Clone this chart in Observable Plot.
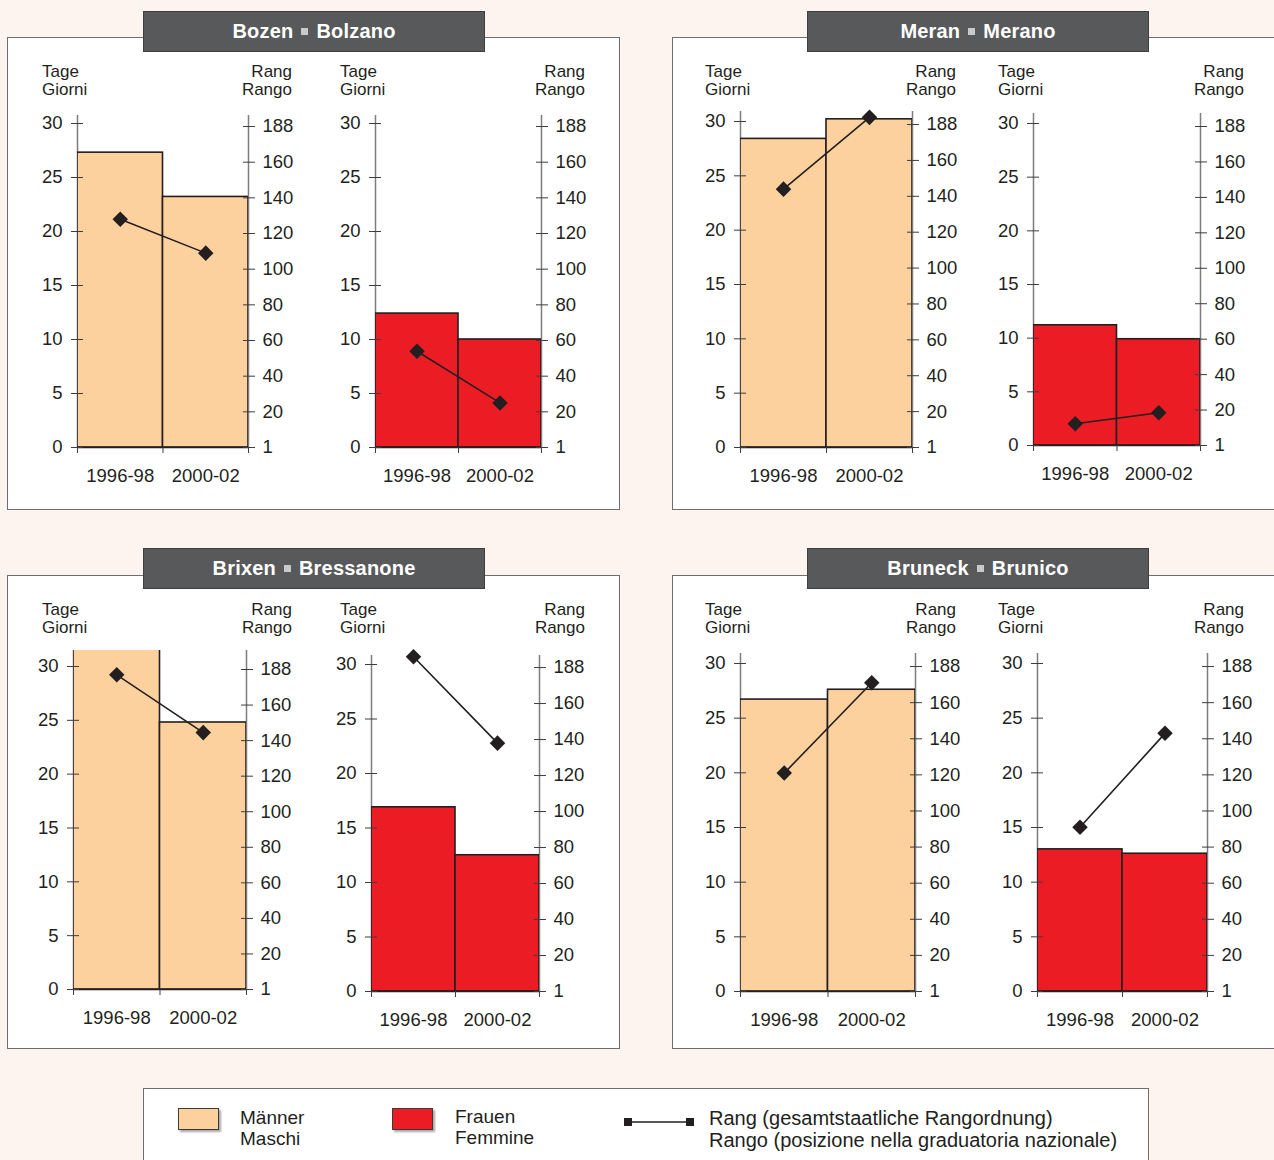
<!DOCTYPE html>
<html><head><meta charset="utf-8">
<script src="https://cdn.jsdelivr.net/npm/d3@7"></script>
<script src="https://cdn.jsdelivr.net/npm/@observablehq/plot@0.6"></script>
<style>
html,body{margin:0;padding:0;background:#fdf4ef;}
#root{position:relative;width:1274px;height:1160px;overflow:hidden;font-family:"Liberation Sans",Arial,sans-serif;color:#231f20;}
.box{position:absolute;box-sizing:border-box;background:#fff;border:1.5px solid #6d6e70;}
.tab{position:absolute;box-sizing:border-box;background:#58595b;border:1.5px solid #3f3f41;color:#fff;font-weight:bold;font-size:20px;display:flex;align-items:center;justify-content:center;letter-spacing:0.2px;}
.sep{display:inline-block;width:7px;height:7px;background:#c9c9c9;margin:0 8px;position:relative;top:0px;}
.hdr{position:absolute;font-size:17px;line-height:18px;}
.chart{position:absolute;}
.lg{position:absolute;font-size:19px;line-height:21px;}
.sw{position:absolute;box-sizing:border-box;width:41px;height:22px;border:1.5px solid #3a3a3a;box-shadow:2px 2px 2px rgba(0,0,0,0.35);}
</style></head><body><div id="root"></div>
<script>
// ---------- data ----------
const periods = ["1996-98", "2000-02"];
const citiesDe = ["Bozen", "Meran", "Brixen", "Bruneck"];
const citiesIt = ["Bolzano", "Merano", "Bressanone", "Brunico"];
// days (Tage / Giorni)
const menDays   = [[27.3, 23.2], [28.4, 30.2], [32.5, 24.8], [26.7, 27.6]];
const womenDays = [[12.4, 10.0], [11.2, 9.9], [16.9, 12.5], [13.0, 12.6]];
// rank (Rang / Rango), read on the right axis positions
const menRank   = [[128, 109], [144, 184], [177, 144.5], [121, 171]];
const womenRank = [[54, 25], [12.3, 18.5], [186, 138], [91, 143]];
// tick labels
const dayTicks = [0, 5, 10, 15, 20, 25, 30];
const rankTickPos = [0, 20, 40, 60, 80, 100, 120, 140, 160, 180];
const rankTickLabels = ["1", "20", "40", "60", "80", "100", "120", "140", "160", "188"];
const legendLabels = {
  men: ["Männer", "Maschi"],
  women: ["Frauen", "Femmine"],
  rank: ["Rang (gesamtstaatliche Rangordnung)", "Rango (posizione nella graduatoria nazionale)"]
};

// ---------- layout (pixel geometry only) ----------
const RANK_TOP = 29.72; // day-scale value where the top rank tick sits
const panels = [
  {box: [7, 37, 613, 473], tab: [143, 11, 342, 41], hy: 63,
   charts: [{x0: 77, x1: 248, y0: 447, y30: 123, top: 115, tx: 42, rx: 292},
            {x0: 375, x1: 541, y0: 447, y30: 123, top: 115, tx: 340, rx: 585}]},
  {box: [672, 37, 640, 473], tab: [807, 11, 342, 41], hy: 63,
   charts: [{x0: 740, x1: 912, y0: 447, y30: 121, top: 111, tx: 705, rx: 956},
            {x0: 1033, x1: 1200, y0: 445, y30: 123, top: 113, tx: 998, rx: 1244}]},
  {box: [7, 575, 613, 474], tab: [143, 548, 342, 41], hy: 601,
   charts: [{x0: 73, x1: 246, y0: 989, y30: 666, top: 650, tx: 42, rx: 292},
            {x0: 371, x1: 539, y0: 991, y30: 664, top: 655, tx: 340, rx: 585}]},
  {box: [672, 575, 640, 474], tab: [807, 548, 342, 41], hy: 601,
   charts: [{x0: 740, x1: 915, y0: 991, y30: 663, top: 653, tx: 705, rx: 956},
            {x0: 1037, x1: 1207, y0: 991, y30: 663, top: 653, tx: 998, rx: 1244}]}
];
const MEN = "#fdd19e", WOMEN = "#ec1c24", INK = "#231f20";

const root = document.getElementById("root");
function el(cls, css, html) {
  const d = document.createElement("div");
  d.className = cls;
  Object.assign(d.style, css);
  if (html != null) d.innerHTML = html;
  root.appendChild(d);
  return d;
}

function chart(days, ranks, fill, g) {
  const mL = 60, mR = 60, mT = 10, mB = 48;
  const svgTop = g.top - mT;
  const height = (g.y0 - svgTop) + mB;
  const width = (g.x1 - g.x0) + mL + mR;
  const rk = r => r / 180 * RANK_TOP;
  const data = periods.map((p, i) => ({period: p, i, i1: i + 1, xm: i + 0.5, days: days[i], rank: ranks[i]}));
  const rankY = rankTickPos.map(rk);
  const plot = Plot.plot({
    width, height,
    marginLeft: mL, marginRight: mR, marginTop: mT, marginBottom: mB,
    x: {domain: [0, 2]},
    y: {domain: [0, 30], range: [g.y0 - svgTop, g.y30 - svgTop]},
    style: {fontFamily: "'Liberation Sans', Arial, sans-serif", fontSize: "18.5px", color: INK, background: "transparent", overflow: "visible"},
    marks: [
      Plot.ruleX([0, 2], {stroke: "#7d7d7f", strokeWidth: 1.5}),
      Plot.rectY(data, {x1: "i", x2: "i1", y: "days", fill, stroke: INK, strokeWidth: 1.6, clip: true}),
      Plot.ruleY([0], {stroke: INK, strokeWidth: 1.6}),
      Plot.axisY(dayTicks, {anchor: "left", tickSize: 12, dx: 6, fill: "none", stroke: "#3d3d3f", label: null}),
      Plot.axisY(dayTicks, {anchor: "left", tickSize: 0, tickPadding: 15, fill: INK, label: null}),
      Plot.axisY(rankY, {anchor: "right", tickSize: 12, dx: -6, fill: "none", stroke: "#3d3d3f", label: null}),
      Plot.axisY(rankY, {anchor: "right", tickSize: 0, tickPadding: 14, fill: INK, label: null,
        tickFormat: d => rankTickLabels[rankY.findIndex(v => Math.abs(v - d) < 1e-6)]}),
      Plot.axisX([0, 1, 2], {anchor: "bottom", tickSize: 6, fill: "none", stroke: "#3d3d3f", label: null}),
      Plot.axisX([0.5, 1.5], {anchor: "bottom", tickSize: 0, tickPadding: 21, fill: INK, label: null,
        tickFormat: d => periods[Math.floor(d)]}),
      Plot.line(data, {x: "xm", y: d => rk(d.rank), stroke: INK, strokeWidth: 1.6}),
      Plot.dot(data, {x: "xm", y: d => rk(d.rank), symbol: "diamond2", r: 7, fill: INK, stroke: null})
    ]
  });
  const wrap = el("chart", {left: (g.x0 - mL) + "px", top: svgTop + "px"});
  wrap.appendChild(plot);
}

panels.forEach((P, k) => {
  const [bx, by, bw, bh] = P.box;
  el("box", {left: bx + "px", top: by + "px", width: bw + "px", height: bh + "px"});
  const [tx, ty, tw, th] = P.tab;
  el("tab", {left: tx + "px", top: ty + "px", width: tw + "px", height: th + "px"},
     `${citiesDe[k]}<span class="sep"></span>${citiesIt[k]}`);
  const sets = [[menDays[k], menRank[k], MEN], [womenDays[k], womenRank[k], WOMEN]];
  P.charts.forEach((g, j) => {
    el("hdr", {left: g.tx + "px", top: P.hy + "px"}, "Tage<br>Giorni");
    el("hdr", {left: (g.rx - 100) + "px", top: P.hy + "px", width: "100px", textAlign: "right"}, "Rang<br>Rango");
    chart(sets[j][0], sets[j][1], sets[j][2], g);
  });
});

// ---------- legend ----------
el("box", {left: "143px", top: "1088px", width: "1006px", height: "110px"});
el("sw", {left: "178px", top: "1108px", background: MEN});
el("lg", {left: "240px", top: "1107px"}, legendLabels.men.join("<br>"));
el("sw", {left: "392px", top: "1108px", background: WOMEN});
el("lg", {left: "455px", top: "1106px"}, legendLabels.women.join("<br>"));
const ls = el("lg", {left: "622px", top: "1112px", width: "74px", height: "14px"});
ls.innerHTML = `<svg width="74" height="14"><line x1="6" y1="7" x2="68" y2="7" stroke="${INK}" stroke-width="1.6"/><rect x="2" y="3" width="8" height="8" fill="${INK}"/><rect x="64" y="3" width="8" height="8" fill="${INK}"/></svg>`;
el("lg", {left: "709px", top: "1107px", fontSize: "20px", lineHeight: "22px"}, legendLabels.rank.join("<br>"));
</script>
</body></html>
